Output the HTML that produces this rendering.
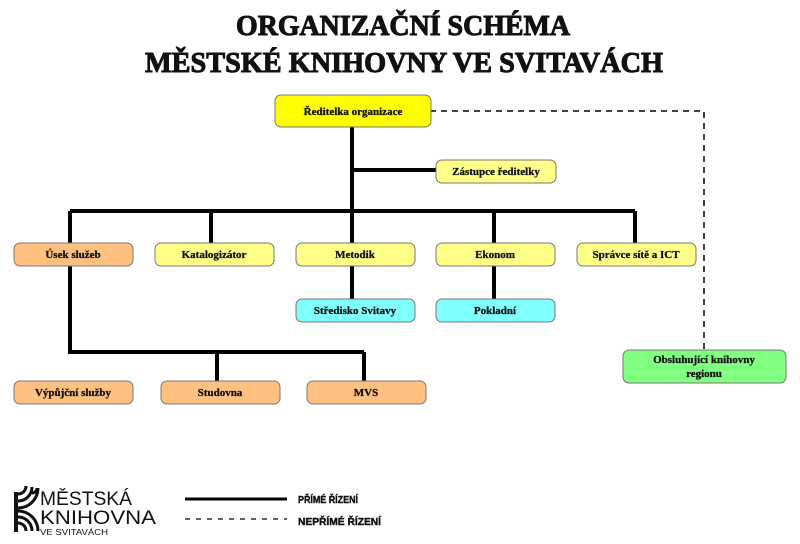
<!DOCTYPE html>
<html><head><meta charset="utf-8"><style>
body{margin:0;background:#fff;width:800px;height:544px;overflow:hidden}
svg{display:block}
.t{font-family:"Liberation Serif",serif;font-weight:bold;font-size:11px;text-anchor:middle;fill:#111;stroke:#111;stroke-width:0.3}
.h{font-family:"Liberation Serif",serif;font-weight:bold;font-size:29px;text-anchor:middle;fill:#111;stroke:#111;stroke-width:1}
.b{stroke:#777;stroke-width:1}
</style></head><body>
<svg width="800" height="544" viewBox="0 0 800 544">
<text class="h" x="403" y="35" textLength="334" lengthAdjust="spacingAndGlyphs">ORGANIZAČNÍ SCHÉMA</text>
<text class="h" x="404" y="72" textLength="518" lengthAdjust="spacingAndGlyphs">MĚSTSKÉ KNIHOVNY VE SVITAVÁCH</text>
<g stroke="#000" stroke-width="4" fill="none">
<path d="M352 127V211M352 170H437M70 211H635M70 211V243M211 211V243M352 211V243M494 211V243M635 211V243M352 266V299M494 266V299M70 266V352H364M217 352V381M364 352V381"/>
</g>
<path d="M430 111H704V350" stroke="#000" stroke-width="1.5" fill="none" stroke-dasharray="6,5"/>
<g class="b">
<rect x="275" y="95" width="156" height="32" rx="6" fill="#ffff00"/>
<rect x="436" y="160" width="120" height="23" rx="6" fill="#ffff88"/>
<rect x="14" y="243" width="119" height="23" rx="6" fill="#ffc080"/>
<rect x="155" y="243" width="119" height="23" rx="6" fill="#ffff88"/>
<rect x="296" y="243" width="119" height="23" rx="6" fill="#ffff88"/>
<rect x="436" y="243" width="119" height="23" rx="6" fill="#ffff88"/>
<rect x="577" y="243" width="119" height="23" rx="6" fill="#ffff88"/>
<rect x="296" y="299" width="119" height="23" rx="6" fill="#80ffff"/>
<rect x="436" y="299" width="119" height="23" rx="6" fill="#80ffff"/>
<rect x="14" y="381" width="119" height="23" rx="6" fill="#ffc080"/>
<rect x="161" y="381" width="119" height="23" rx="6" fill="#ffc080"/>
<rect x="307" y="381" width="119" height="23" rx="6" fill="#ffc080"/>
<rect x="623" y="350" width="163" height="33" rx="6" fill="#80ff80"/>
</g>
<text class="t" x="353" y="115">Ředitelka organizace</text>
<text class="t" x="496" y="175">Zástupce ředitelky</text>
<text class="t" x="73" y="258">Úsek služeb</text>
<text class="t" x="214" y="258">Katalogizátor</text>
<text class="t" x="355" y="258">Metodik</text>
<text class="t" x="495" y="258">Ekonom</text>
<text class="t" x="636" y="258">Správce sítě a ICT</text>
<text class="t" x="355" y="314">Středisko Svitavy</text>
<text class="t" x="495" y="314">Pokladní</text>
<text class="t" x="73" y="396">Výpůjční služby</text>
<text class="t" x="220" y="396">Studovna</text>
<text class="t" x="366" y="396">MVS</text>
<text class="t" x="704" y="363">Obsluhující knihovny</text>
<text class="t" x="704" y="377">regionu</text>
<g fill="none" stroke="#111" stroke-width="3">
<path d="M37 488A5 5 0 0 1 32 493M37 488A5 5 0 0 1 32 493"/>
<path d="M32 487A14 14 0 0 1 18 501M26 486A8 8 0 0 1 18 494M38 488A20 20 0 0 1 18 508"/>
<path d="M38 531A20 20 0 0 0 18 511M32 531A14 14 0 0 0 18 517M26 531A8 8 0 0 0 18 523"/>
</g>
<rect x="14" y="492" width="4" height="40" fill="#111"/>
<g font-family="Liberation Sans,sans-serif" fill="#111">
<text x="40" y="505" font-size="19" textLength="92" lengthAdjust="spacingAndGlyphs">MĚSTSKÁ</text>
<text x="40" y="524" font-size="19" textLength="116" lengthAdjust="spacingAndGlyphs">KNIHOVNA</text>
<text x="40" y="535" font-size="8" textLength="68" lengthAdjust="spacingAndGlyphs">VE SVITAVÁCH</text>
<text x="298" y="503" font-size="10" font-weight="bold" stroke="#111" stroke-width="0.4" textLength="60" lengthAdjust="spacingAndGlyphs">PŘÍMÉ ŘÍZENÍ</text>
<text x="298" y="525" font-size="10" font-weight="bold" stroke="#111" stroke-width="0.4" textLength="83" lengthAdjust="spacingAndGlyphs">NEPŘÍMÉ ŘÍZENÍ</text>
</g>
<path d="M185 499H287" stroke="#000" stroke-width="3"/>
<path d="M185 519H287" stroke="#000" stroke-width="1.2" stroke-dasharray="5,6"/>
</svg>
</body></html>
